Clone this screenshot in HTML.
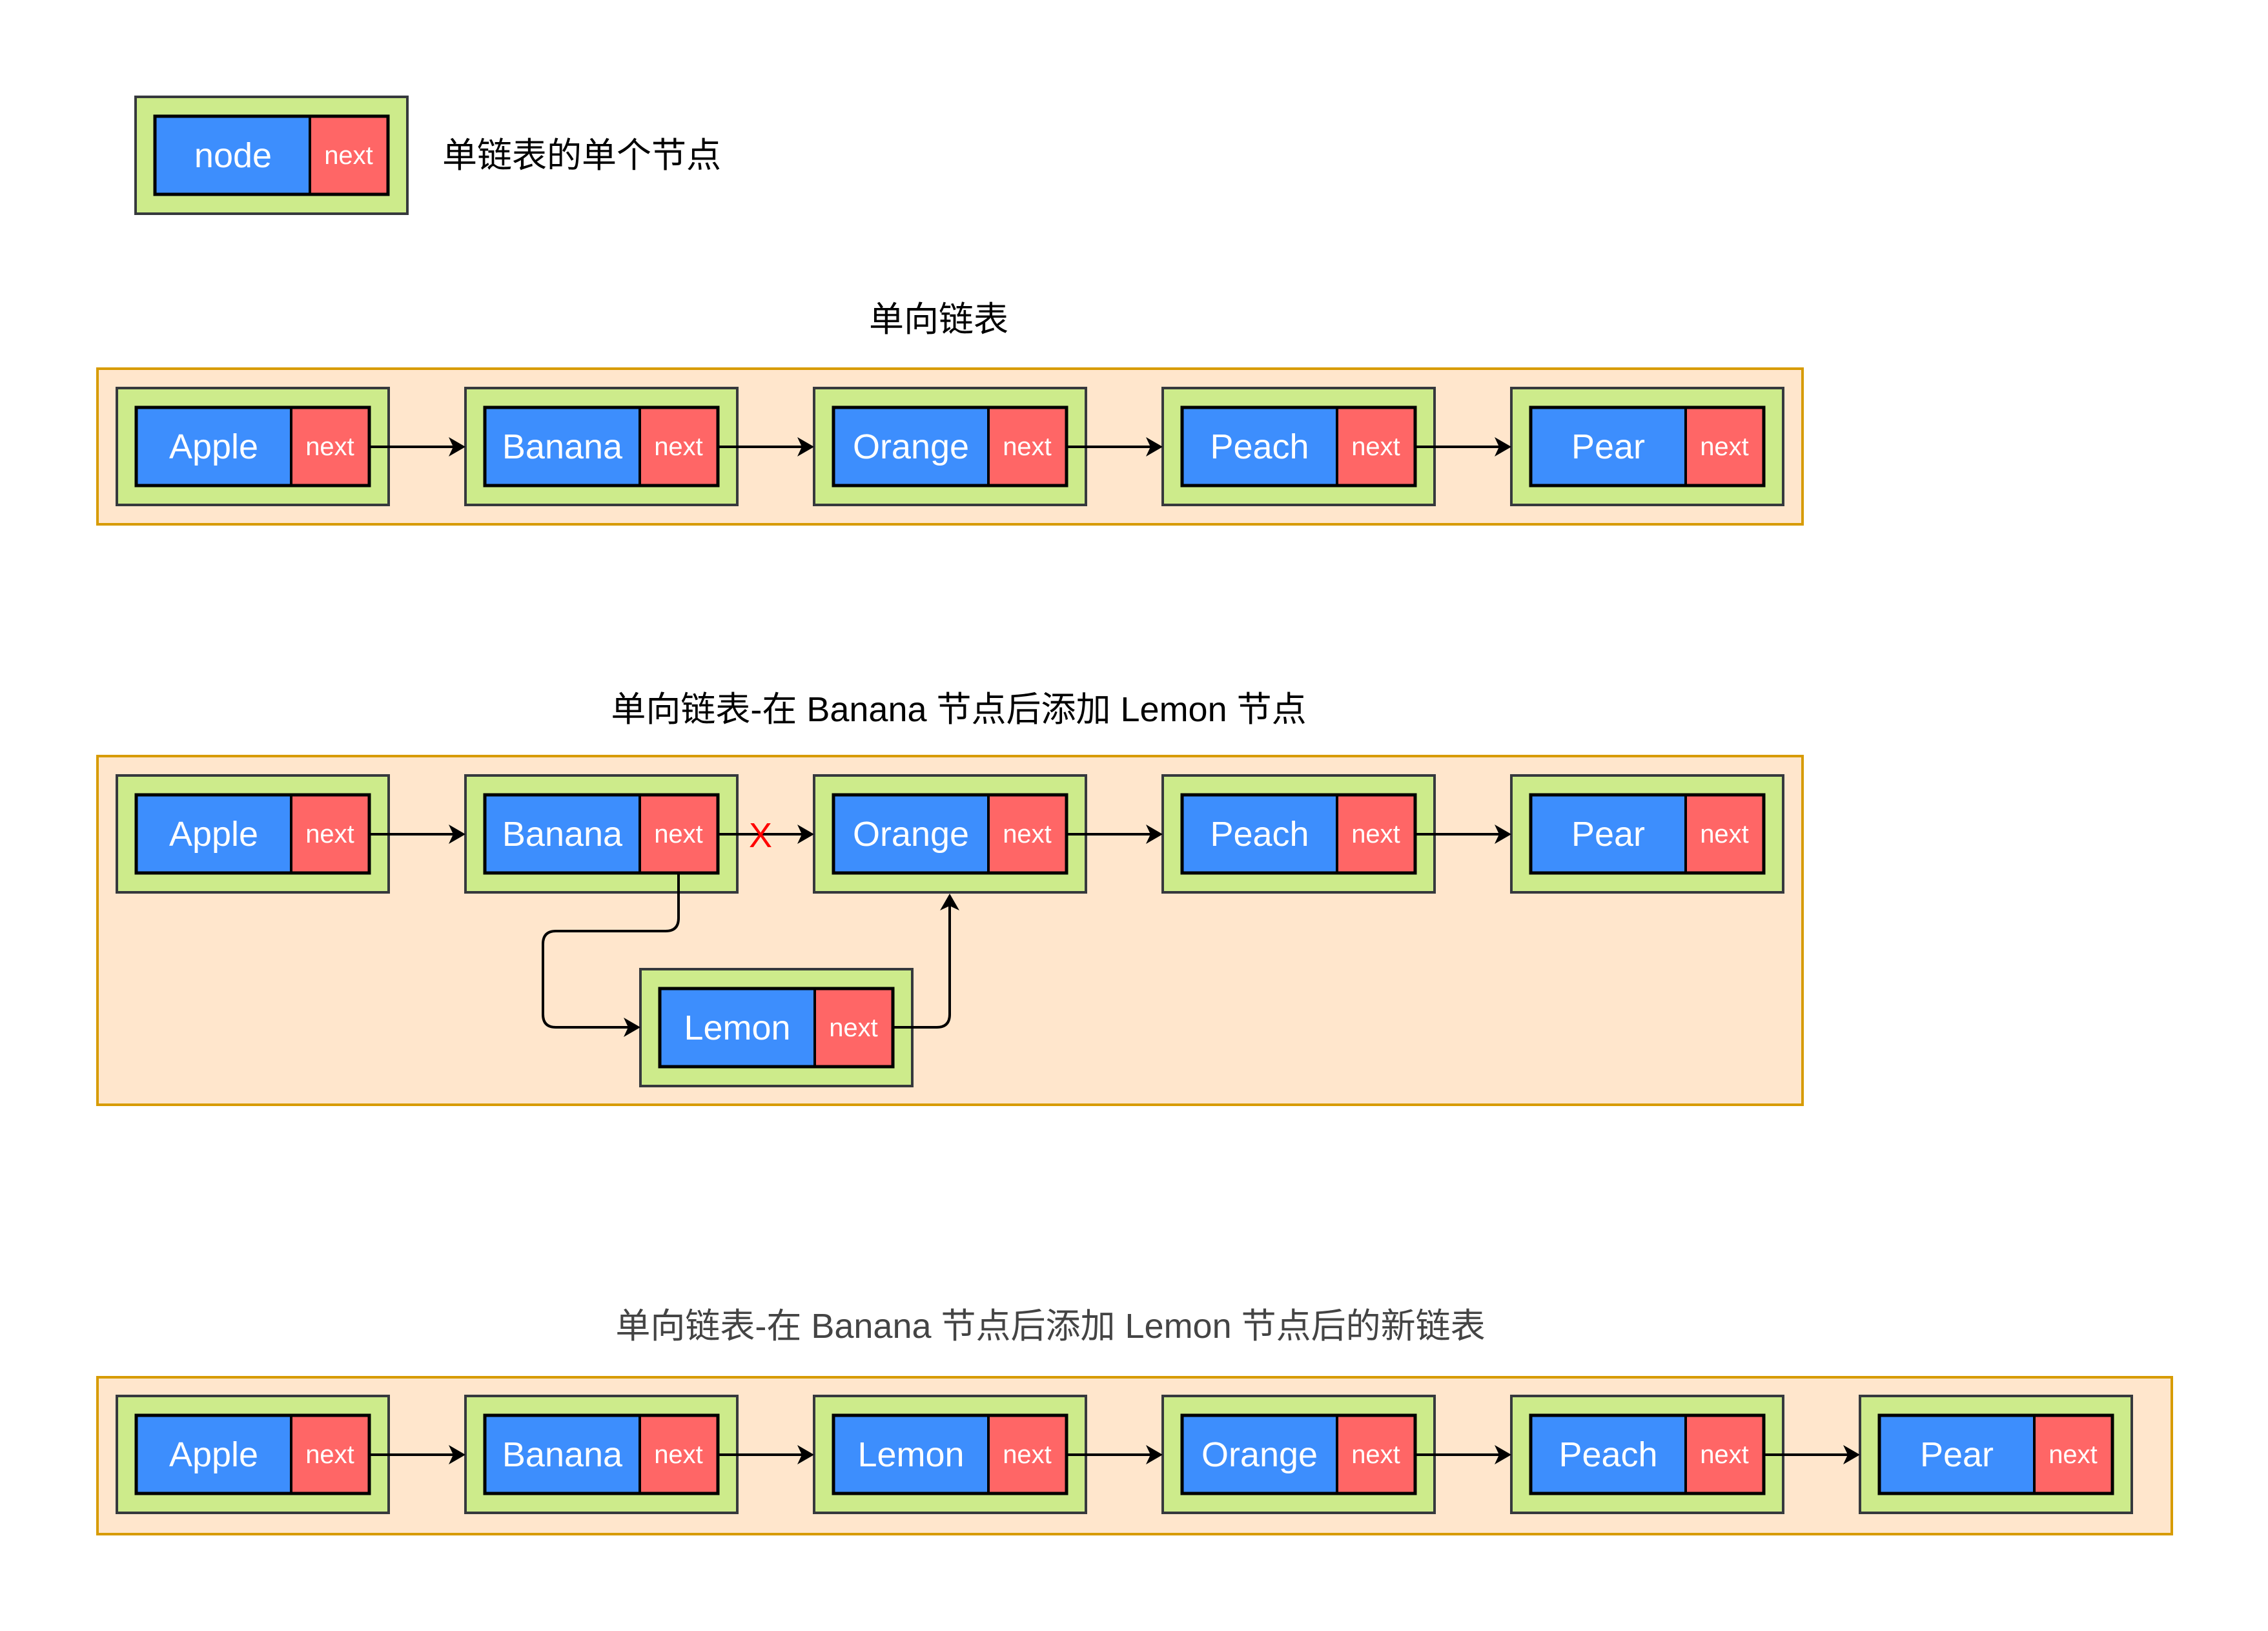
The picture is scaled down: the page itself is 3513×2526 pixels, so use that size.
<!DOCTYPE html>
<html><head><meta charset="utf-8"><style>
html,body{margin:0;padding:0;background:#fff}
svg{display:block}
text{font-family:"Liberation Sans","Noto Sans CJK SC",sans-serif}
.n{fill:#fff;font-size:54px;text-anchor:middle;dominant-baseline:central}
.x{fill:#fff;font-size:40px;text-anchor:middle;dominant-baseline:central}
.t{fill:#000;font-size:54px;dominant-baseline:central}
</style></head><body>
<svg width="3513" height="2526" viewBox="0 0 3513 2526" xmlns="http://www.w3.org/2000/svg">
<defs>
<g id="node">
<rect x="0" y="0" width="421" height="181" fill="#cdeb8b" stroke="#36393d" stroke-width="4"/>
<rect x="30" y="30" width="240" height="121" fill="#3d8efd"/>
<rect x="270" y="30" width="121" height="121" fill="#ff6666"/>
<rect x="30" y="30" width="361" height="121" fill="none" stroke="#000" stroke-width="5"/>
<line x1="270" y1="30" x2="270" y2="151" stroke="#000" stroke-width="4"/>
<text class="x" x="330" y="91">next</text>
</g>
<path id="ah" d="M0,0 L-26,-15 L-19,0 L-26,15 Z" fill="#000"/>
</defs>

<!-- legend -->
<use href="#node" x="210" y="150"/>
<text class="n" x="361" y="241">node</text>
<text class="t" x="685" y="241">单链表的单个节点</text>

<!-- row 1 -->
<text class="t" x="1454" y="495" text-anchor="middle">单向链表</text>
<rect x="151" y="571" width="2641" height="241" fill="#ffe6cc" stroke="#d79b00" stroke-width="4"/>
<use href="#node" x="181" y="601"/><text class="n" x="331" y="692">Apple</text>
<use href="#node" x="721" y="601"/><text class="n" x="871" y="692">Banana</text>
<use href="#node" x="1261" y="601"/><text class="n" x="1411" y="692">Orange</text>
<use href="#node" x="1801" y="601"/><text class="n" x="1951" y="692">Peach</text>
<use href="#node" x="2341" y="601"/><text class="n" x="2491" y="692">Pear</text>
<g stroke="#000" stroke-width="4">
<line x1="572" y1="692" x2="705" y2="692"/>
<line x1="1112" y1="692" x2="1245" y2="692"/>
<line x1="1652" y1="692" x2="1785" y2="692"/>
<line x1="2192" y1="692" x2="2325" y2="692"/>
</g>
<use href="#ah" x="721" y="692"/><use href="#ah" x="1261" y="692"/><use href="#ah" x="1801" y="692"/><use href="#ah" x="2341" y="692"/>

<!-- row 2 -->
<text class="t" x="1485" y="1099" text-anchor="middle">单向链表-在 Banana 节点后添加 Lemon 节点</text>
<rect x="151" y="1171" width="2641" height="540" fill="#ffe6cc" stroke="#d79b00" stroke-width="4"/>
<use href="#node" x="181" y="1201"/><text class="n" x="331" y="1292">Apple</text>
<use href="#node" x="721" y="1201"/><text class="n" x="871" y="1292">Banana</text>
<use href="#node" x="1261" y="1201"/><text class="n" x="1411" y="1292">Orange</text>
<use href="#node" x="1801" y="1201"/><text class="n" x="1951" y="1292">Peach</text>
<use href="#node" x="2341" y="1201"/><text class="n" x="2491" y="1292">Pear</text>
<use href="#node" x="992" y="1501"/><text class="n" x="1142" y="1592">Lemon</text>
<g stroke="#000" stroke-width="4" fill="none">
<line x1="572" y1="1292" x2="705" y2="1292"/>
<line x1="1112" y1="1292" x2="1245" y2="1292"/>
<line x1="1652" y1="1292" x2="1785" y2="1292"/>
<line x1="2192" y1="1292" x2="2325" y2="1292"/>
<path d="M1051,1351 V1422 Q1051,1442 1031,1442 H861 Q841,1442 841,1462 V1571 Q841,1591 861,1591 H975"/>
<path d="M1381,1591 H1451 Q1471,1591 1471,1571 V1400"/>
</g>
<use href="#ah" x="721" y="1292"/><use href="#ah" x="1261" y="1292"/><use href="#ah" x="1801" y="1292"/><use href="#ah" x="2341" y="1292"/>
<use href="#ah" x="992" y="1591"/>
<use href="#ah" transform="translate(1471,1384) rotate(-90)"/>
<text x="1178" y="1294" fill="#ff0000" font-size="54" text-anchor="middle" dominant-baseline="central">X</text>

<!-- row 3 -->
<text class="t" x="1627" y="2054" text-anchor="middle" style="fill:#444">单向链表-在 Banana 节点后添加 Lemon 节点后的新链表</text>
<rect x="151" y="2133" width="3213" height="243" fill="#ffe6cc" stroke="#d79b00" stroke-width="4"/>
<use href="#node" x="181" y="2162"/><text class="n" x="331" y="2253">Apple</text>
<use href="#node" x="721" y="2162"/><text class="n" x="871" y="2253">Banana</text>
<use href="#node" x="1261" y="2162"/><text class="n" x="1411" y="2253">Lemon</text>
<use href="#node" x="1801" y="2162"/><text class="n" x="1951" y="2253">Orange</text>
<use href="#node" x="2341" y="2162"/><text class="n" x="2491" y="2253">Peach</text>
<use href="#node" x="2881" y="2162"/><text class="n" x="3031" y="2253">Pear</text>
<g stroke="#000" stroke-width="4">
<line x1="572" y1="2253" x2="705" y2="2253"/>
<line x1="1112" y1="2253" x2="1245" y2="2253"/>
<line x1="1652" y1="2253" x2="1785" y2="2253"/>
<line x1="2192" y1="2253" x2="2325" y2="2253"/>
<line x1="2732" y1="2253" x2="2865" y2="2253"/>
</g>
<use href="#ah" x="721" y="2253"/><use href="#ah" x="1261" y="2253"/><use href="#ah" x="1801" y="2253"/><use href="#ah" x="2341" y="2253"/><use href="#ah" x="2881" y="2253"/>
</svg>
</body></html>
